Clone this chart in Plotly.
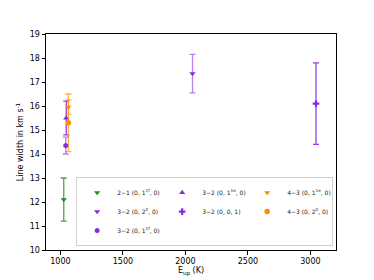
import plotly.graph_objects as go

# Series data (E_up in K, line width in km/s, symmetric error)
labels = [
    "2−1 (0, 1<sup>1f</sup>, 0)",
    "3−2 (0, 1<sup>1e</sup>, 0)",
    "4−3 (0, 1<sup>1e</sup>, 0)",
    "3−2 (0, 2<sup>0</sup>, 0)",
    "3−2 (0, 0, 1)",
    "4−3 (0, 2<sup>0</sup>, 0)",
    "3−2 (0, 1<sup>1f</sup>, 0)",
]
x_vals = [[1027], [1047], [1064], [2057], [3045], [1064], [1043]]
y_vals = [[12.1], [15.5], [15.95], [17.35], [16.1], [15.3], [14.35]]
y_errs = [[0.9], [0.7], [0.3], [0.8], [1.7], [1.2], [0.35]]

x_ticks = [1000, 1500, 2000, 2500, 3000]
y_ticks = list(range(10, 20))

symbols = ["triangle-down", "triangle-up", "triangle-down", "triangle-down",
           "cross", "circle", "hexagon"]
marker_colors = ["#228B22", "#8A2BE2", "#FF8C00", "#8A2BE2",
                 "#8A2BE2", "#FF8C00", "#8A2BE2"]
bar_colors = ["rgba(34,139,34,0.8)", "rgba(138,43,226,0.9)", "rgba(255,140,0,0.6)",
              "rgba(138,43,226,0.6)", "rgba(138,43,226,0.9)", "rgba(255,140,0,0.7)",
              "rgba(138,43,226,0.6)"]

fig = go.Figure()
for lab, xs, ys, es, sym, mc, bc in zip(labels, x_vals, y_vals, y_errs,
                                        symbols, marker_colors, bar_colors):
    fig.add_trace(go.Scatter(
        x=xs, y=ys, mode="markers", name=lab,
        marker=dict(symbol=sym, size=5.5, color=mc, line=dict(width=0)),
        error_y=dict(type="data", array=es, visible=True, color=bc,
                     thickness=1.3, width=3),
    ))

axis_common = dict(
    showline=True, linecolor="black", linewidth=1, mirror=True,
    ticks="outside", ticklen=3.5, tickcolor="black", tickwidth=1,
    showgrid=False, zeroline=False, automargin=False,
    tickfont=dict(family="DejaVu Sans", size=8, color="black"),
)

# page body has an 8px margin, so margins are offset to place the axes box
fig.update_layout(
    width=374, height=280,
    margin=dict(l=38, r=46, t=26, b=38),
    paper_bgcolor="white", plot_bgcolor="white",
    font=dict(family="DejaVu Sans", color="black"),
    showlegend=True,
    xaxis=dict(range=[885, 3205], tickvals=x_ticks,
               title=dict(text="E<sub>up</sub> (K)", font=dict(size=8), standoff=0),
               **axis_common),
    yaxis=dict(range=[10, 19], tickvals=y_ticks,
               title=dict(text="Line width in km s<sup>-1</sup>", font=dict(size=8), standoff=4),
               **axis_common),
    legend=dict(
        orientation="h", x=0.104, xanchor="left", y=0.018, yanchor="bottom",
        entrywidth=40, bordercolor="#d0d0d0", borderwidth=1, bgcolor="white",
        font=dict(size=6.0, family="DejaVu Sans", color="#222"),
        itemwidth=30, tracegroupgap=0,
    ),
)

fig.write_html("out.html")
